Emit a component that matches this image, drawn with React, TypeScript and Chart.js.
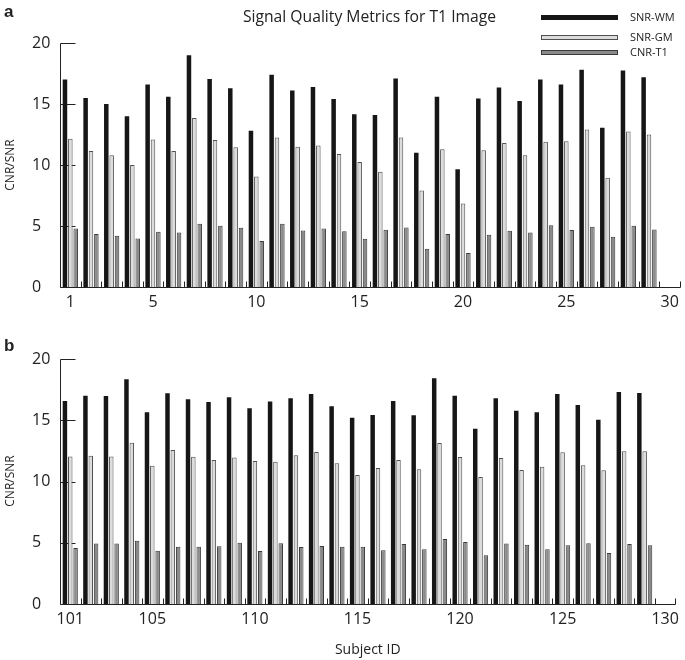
import React, { useEffect, useRef } from "react";
import { Chart, registerables } from "chart.js";

Chart.register(...registerables);

// ---------- data ----------
const subjectsA = [1, 2, 3, 4, 5, 6, 7, 8, 9, 10, 11, 12, 13, 14, 15, 16, 17, 18, 19, 20, 21, 22, 23, 24, 25, 26, 27, 28, 29];
const snrWmA = [17.0, 15.5, 15.0, 14.0, 16.6, 15.6, 19.0, 17.05, 16.3, 12.8, 17.4, 16.1, 16.4, 15.4, 14.15, 14.1, 17.1, 11.0, 15.6, 9.65, 15.45, 16.35, 15.25, 17.0, 16.6, 17.8, 13.05, 17.75, 17.2];
const snrGmA = [12.15, 11.15, 10.8, 10.0, 12.1, 11.15, 13.85, 12.05, 11.45, 9.05, 12.25, 11.5, 11.6, 10.9, 10.25, 9.45, 12.25, 7.9, 11.3, 6.85, 11.2, 11.8, 10.8, 11.9, 11.95, 12.9, 8.95, 12.75, 12.5];
const cnrT1A = [4.8, 4.35, 4.2, 3.98, 4.52, 4.47, 5.18, 5.02, 4.86, 3.77, 5.18, 4.64, 4.8, 4.56, 3.96, 4.69, 4.88, 3.14, 4.34, 2.78, 4.28, 4.61, 4.47, 5.07, 4.67, 4.94, 4.12, 5.02, 4.72];
const tickLabelsA = [1, 5, 10, 15, 20, 25, 30];

const subjectsB = [101, 102, 103, 104, 105, 106, 107, 108, 109, 110, 111, 112, 113, 114, 115, 116, 117, 118, 119, 120, 121, 122, 123, 124, 125, 126, 127, 128, 129];
const snrWmB = [16.57, 17.0, 16.98, 18.34, 15.65, 17.2, 16.71, 16.49, 16.87, 15.98, 16.54, 16.79, 17.14, 16.14, 15.21, 15.43, 16.57, 15.4, 18.42, 17.0, 14.31, 16.79, 15.78, 15.65, 17.14, 16.24, 15.05, 17.31, 17.22];
const snrGmB = [12.05, 12.11, 12.05, 13.17, 11.29, 12.57, 12.03, 11.76, 11.95, 11.67, 11.62, 12.14, 12.41, 11.48, 10.53, 11.1, 11.76, 10.99, 13.14, 12.0, 10.37, 11.92, 10.94, 11.21, 12.38, 11.32, 10.91, 12.46, 12.46];
const cnrT1B = [4.57, 4.93, 4.93, 5.17, 4.35, 4.68, 4.68, 4.71, 5.0, 4.33, 4.95, 4.65, 4.73, 4.68, 4.68, 4.38, 4.9, 4.46, 5.31, 5.06, 3.97, 4.93, 4.84, 4.46, 4.79, 4.95, 4.16, 4.9, 4.79];
const tickLabelsB = [101, 105, 110, 115, 120, 125, 130];

const yTicks = [0, 5, 10, 15, 20];
const seriesNames = ["SNR-WM", "SNR-GM", "CNR-T1"];

// ---------- style ----------
const FONT = "'Open Sans', 'DejaVu Sans', sans-serif";
const AXIS = "#222222";
const WM_FILL = "#161616";
const GM_FILL = "#dcdcdc";
const GM_BORDER = "#505050";
const CNR_FILL = "#8a8a8a";
const CNR_BORDER = "#3a3a3a";

const axisPlugin = {
  id: "axisLines",
  beforeDatasetsDraw(chart: any) {
    const { ctx, chartArea, scales } = chart;
    const y = scales.y;
    const L = Math.round(chartArea.left) + 0.5;
    ctx.save();
    ctx.strokeStyle = AXIS;
    ctx.lineWidth = 1;
    // inward y ticks
    y.ticks.forEach((t: any) => {
      const py = Math.round(y.getPixelForValue(t.value)) + 0.5;
      ctx.beginPath();
      ctx.moveTo(L, py);
      ctx.lineTo(L + 15, py);
      ctx.stroke();
    });
    ctx.restore();
  },
  afterDatasetsDraw(chart: any) {
    const { ctx, chartArea, scales } = chart;
    const x = scales.x;
    const L = Math.round(chartArea.left) + 0.5;
    const B = Math.round(chartArea.bottom) + 0.5;
    const T = Math.round(chartArea.top) + 0.5;
    const R = Math.round(chartArea.right) + 0.5;
    ctx.save();
    ctx.strokeStyle = AXIS;
    ctx.lineWidth = 1;
    // axis lines
    ctx.beginPath();
    ctx.moveTo(L, T);
    ctx.lineTo(L, B);
    ctx.lineTo(R, B);
    ctx.stroke();
    // inward x minor ticks between groups
    for (let v = x.min + 1; v <= x.max + 1e-6; v += 1) {
      const px = Math.round(x.getPixelForValue(v)) + 0.5;
      ctx.beginPath();
      ctx.moveTo(px, B);
      ctx.lineTo(px, B - 6);
      ctx.stroke();
    }
    ctx.restore();
  },
};

type PanelProps = {
  subjects: number[];
  wm: number[];
  gm: number[];
  cnr: number[];
  tickLabels: number[];
  height: number;
  padTop: number;
  xHeight: number;
  xTitle?: string;
};

function Panel({ subjects, wm, gm, cnr, tickLabels, height, padTop, xHeight, xTitle }: PanelProps) {
  const ref = useRef<HTMLCanvasElement | null>(null);
  useEffect(() => {
    if (!ref.current) return;
    const mk = (vals: number[]) => subjects.map((s, i) => ({ x: s, y: vals[i] }));
    const common = { categoryPercentage: 0.78, barPercentage: 0.84, borderSkipped: "start" as const };
    const chart = new Chart(ref.current, {
      type: "bar",
      data: {
        datasets: [
          { label: seriesNames[0], data: mk(wm), backgroundColor: WM_FILL, borderColor: WM_FILL, borderWidth: 0, ...common },
          { label: seriesNames[1], data: mk(gm), backgroundColor: GM_FILL, borderColor: GM_BORDER, borderWidth: 1, ...common },
          { label: seriesNames[2], data: mk(cnr), backgroundColor: CNR_FILL, borderColor: CNR_BORDER, borderWidth: 1, ...common },
        ],
      },
      options: {
        animation: false,
        responsive: false,
        events: [],
        layout: { padding: { left: 32, right: 5, top: padTop, bottom: 0 } },
        plugins: { legend: { display: false }, title: { display: false }, tooltip: { enabled: false } },
        scales: {
          x: {
            type: "linear",
            offset: false,
            min: subjects[0] - 0.5,
            max: subjects[subjects.length - 1] + 1.5,
            afterBuildTicks: (scale: any) => {
              scale.ticks = tickLabels.map((v) => ({ value: v }));
            },
            afterFit: (scale: any) => {
              scale.height = xHeight;
            },
            grid: { display: false, drawTicks: false },
            border: { display: false },
            ticks: {
              autoSkip: false,
              maxRotation: 0,
              padding: 6,
              color: AXIS,
              font: { family: FONT, size: 16 },
              callback: (v: any) => String(v),
            },
            title: xTitle
              ? { display: true, text: xTitle, color: AXIS, font: { family: FONT, size: 14 }, padding: { top: 0, bottom: 2 } }
              : { display: false },
          },
          y: {
            type: "linear",
            min: 0,
            max: 20,
            afterBuildTicks: (scale: any) => {
              scale.ticks = yTicks.map((v) => ({ value: v }));
            },
            afterFit: (scale: any) => {
              scale.width = 28;
            },
            grid: { display: false, drawTicks: false },
            border: { display: false },
            ticks: {
              crossAlign: "far",
              padding: 0,
              color: AXIS,
              font: { family: FONT, size: 16 },
            },
          },
        },
      },
      plugins: [axisPlugin],
    } as any);
    return () => chart.destroy();
  }, []);
  return <canvas ref={ref} width={685} height={height} style={{ display: "block", width: 685, height }} />;
}

const txt: React.CSSProperties = { position: "absolute", fontFamily: FONT, color: AXIS, whiteSpace: "nowrap", lineHeight: 1 };

function LegendRow({ top, label, fill, border }: { top: number; label: string; fill: string; border: string }) {
  return (
    <>
      <div style={{ position: "absolute", left: 541, top: top - 2.5, width: 77, height: 5, boxSizing: "border-box", background: fill, border: `1px solid ${border}` }} />
      <div style={{ ...txt, left: 630, top: top - 6, fontSize: 11 }}>{label}</div>
    </>
  );
}

export default function App() {
  return (
    <div style={{ position: "absolute", left: 0, top: 0, width: 685, height: 660, background: "#fff", overflow: "hidden" }}>
      <div style={{ position: "absolute", left: 0, top: 0 }}>
        <Panel subjects={subjectsA} wm={snrWmA} gm={snrGmA} cnr={cnrT1A} tickLabels={tickLabelsA} height={320} padTop={43} xHeight={33} />
      </div>
      <div style={{ position: "absolute", left: 0, top: 320 }}>
        <Panel subjects={subjectsB} wm={snrWmB} gm={snrGmB} cnr={cnrT1B} tickLabels={tickLabelsB} height={340} padTop={39} xHeight={56} xTitle="Subject ID" />
      </div>
      <div style={{ ...txt, left: 4, top: 3, fontSize: 17, fontWeight: 700, fontFamily: "'Liberation Sans', Arial, sans-serif" }}>a</div>
      <div style={{ ...txt, left: 4, top: 337, fontSize: 17, fontWeight: 700, fontFamily: "'Liberation Sans', Arial, sans-serif" }}>b</div>
      <div style={{ ...txt, left: 369.5, top: 9, fontSize: 15.7, transform: "translateX(-50%)" }}>Signal Quality Metrics for T1 Image</div>
      <LegendRow top={17} label={seriesNames[0]} fill={WM_FILL} border={WM_FILL} />
      <LegendRow top={37} label={seriesNames[1]} fill={GM_FILL} border={GM_BORDER} />
      <LegendRow top={52} label={seriesNames[2]} fill={CNR_FILL} border={CNR_BORDER} />
      <div style={{ ...txt, left: 10, top: 165, fontSize: 12, transform: "translate(-50%, -50%) rotate(-90deg)" }}>CNR/SNR</div>
      <div style={{ ...txt, left: 10, top: 481, fontSize: 12, transform: "translate(-50%, -50%) rotate(-90deg)" }}>CNR/SNR</div>
    </div>
  );
}
